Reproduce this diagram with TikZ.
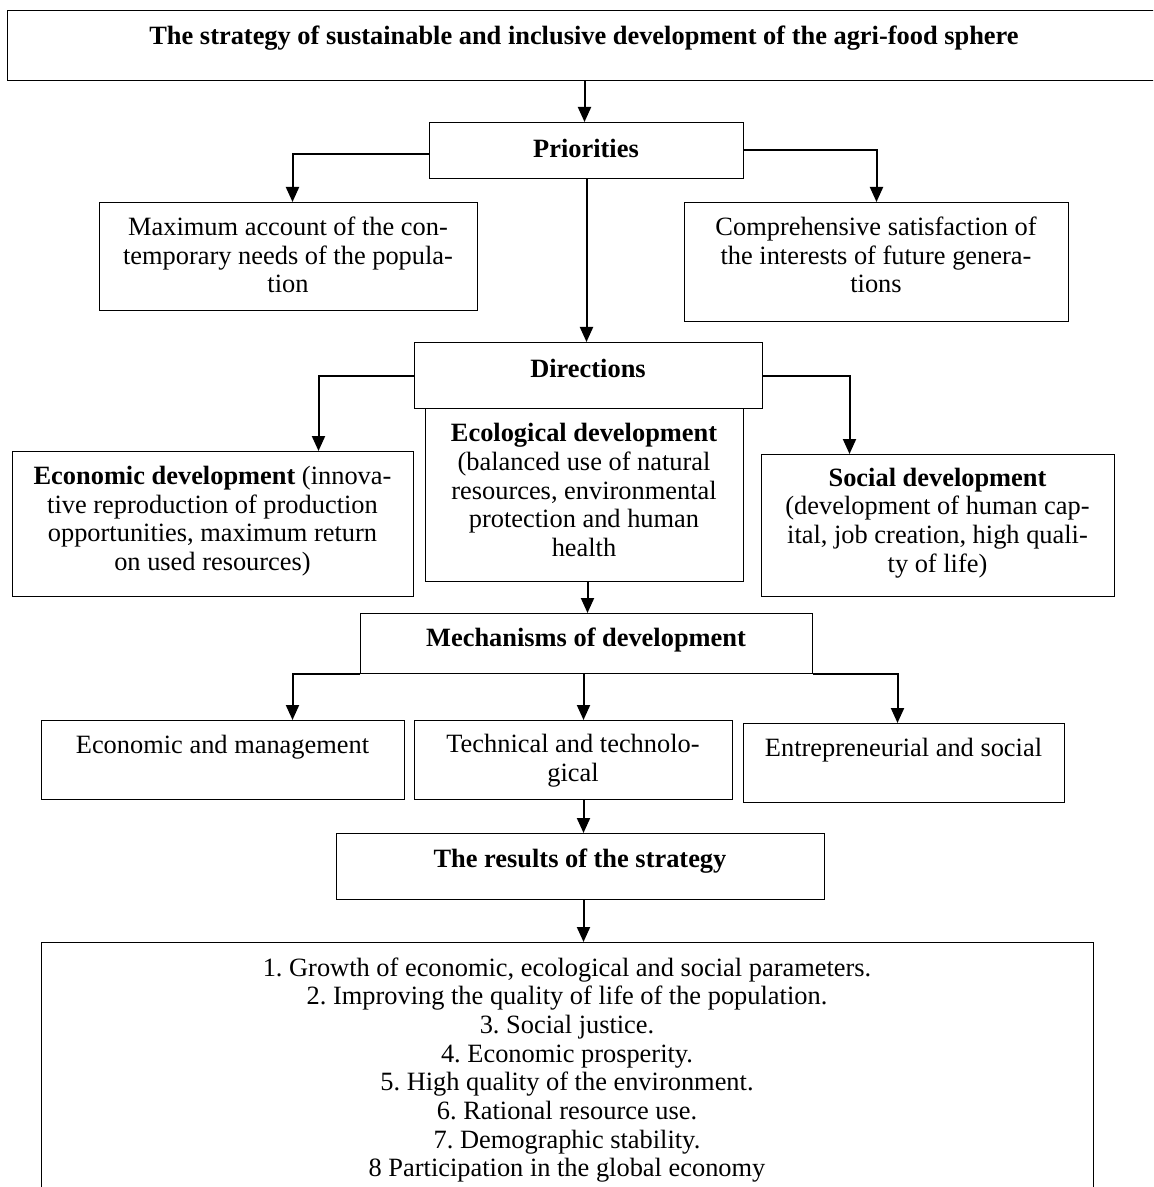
\documentclass[tikz,border=0pt]{standalone}
\usepackage{fontspec}
\setmainfont{Liberation Serif}
\frenchspacing
\usetikzlibrary{arrows.meta,calc}
\begin{document}
\begin{tikzpicture}[x=0.5pt,y=-0.5pt,
  box/.style={draw, line width=0.5pt, inner sep=0pt, anchor=north west},
  txt/.style={align=center, inner sep=0pt, font=\fontsize{13.2pt}{14.35pt}\selectfont},
  btxt/.style={align=center, inner sep=0pt, font=\fontsize{13.2pt}{14.35pt}\selectfont\bfseries},
  arr/.style={line width=1pt, -{Triangle[length=7.5pt,width=6.5pt]}}]
\useasboundingbox (0,0) rectangle (1153,1187);
\clip (0,0) rectangle (1153,1187);
% boxes
\node[box, minimum width=577pt, minimum height=35pt] (top) at (7,10) {};
\node[box, minimum width=157pt, minimum height=28pt] (prio) at (429,122) {};
\node[box, minimum width=189pt, minimum height=54pt] (max) at (99,202) {};
\node[box, minimum width=192pt, minimum height=59.5pt] (comp) at (684,202) {};
\node[box, minimum width=174pt, minimum height=33pt] (dir) at (414,342) {};
\node[box, minimum width=200.5pt, minimum height=72.5pt] (econ) at (12,451) {};
\node[box, minimum width=159pt, minimum height=86.5pt] (eco) at (425,408) {};
\node[box, minimum width=176.5pt, minimum height=71pt] (soc) at (761,454) {};
\node[box, minimum width=226pt, minimum height=30pt] (mech) at (360,613) {};
\node[box, minimum width=181.5pt, minimum height=39.5pt] (em) at (41,720) {};
\node[box, minimum width=159pt, minimum height=39.5pt] (tech) at (414,720) {};
\node[box, minimum width=160.5pt, minimum height=39.5pt] (ent) at (743,723) {};
\node[box, minimum width=244pt, minimum height=33pt] (res) at (336,833) {};
\node[box, minimum width=526pt, minimum height=150pt] (fin) at (41,942) {};
% texts
\node[btxt] (t-top) at (584,38) {The strategy of sustainable and inclusive development of the agri-food sphere};
\node[btxt] (t-prio) at (586,148) {Priorities};
\node[txt] (t-max) at (288,255) {Maximum account of the con-\\temporary needs of the popula-\\tion};
\node[txt] (t-comp) at (876,255) {Comprehensive satisfaction of\\the interests of future genera-\\tions};
\node[btxt] (t-dir) at (588,368) {Directions};
\node[txt] (t-econ) at (212.5,521) {\textbf{Economic development} (innova-\\tive reproduction of production\\opportunities, maximum return\\on used resources)};
\node[txt] (t-eco) at (584,490) {\textbf{Ecological development}\\(balanced use of natural\\resources, environmental\\protection and human\\health};
\node[txt] (t-soc) at (937.5,523) {\textbf{Social development}\\(development of human cap-\\ital, job creation, high quali-\\ty of life)};
\node[btxt] (t-mech) at (586,640) {Mechanisms of development};
\node[txt] (t-em) at (222.5,747) {Economic and management};
\node[txt] (t-tech) at (573,760.5) {Technical and technolo-\\gical};
\node[txt] (t-ent) at (903.5,750) {Entrepreneurial and social};
\node[btxt] (t-res) at (580,861) {The results of the strategy};
\node[txt] (t-fin) at (567,1070) {1. Growth of economic, ecological and social parameters.\\2. Improving the quality of life of the population.\\3. Social justice.\\4. Economic prosperity.\\5. High quality of the environment.\\6. Rational resource use.\\7. Demographic stability.\\8 Participation in the global economy};
% connectors
\draw[arr] (top.south) -- (top.south |- prio.north);
\draw[arr] ($(prio.west)+(0,4)$) -| ($(max.north)+(4,0)$);
\draw[arr] (prio.east) -| (comp.north);
\draw[arr] (prio.south) -- (prio.south |- dir.north);
\draw[arr] (dir.west) -| ($(econ.north)+(105.5,0)$);
\draw[arr] (dir.east) -| ($(soc.north)+(-88.5,0)$);
\draw[arr] ($(eco.south)+(3,0)$) -- ($(eco.south |- mech.north)+(3,0)$);
\draw[arr] (mech.south west) -| ($(em.north)+(69.5,0)$);
\draw[arr] ($(mech.south)+(-3,0)$) -- ($(tech.north)+(10,0)$);
\draw[arr] (mech.south east) -| ($(ent.north)+(-6.5,0)$);
\draw[arr] ($(tech.south)+(10,0)$) -- ($(res.north)+(3,0)$);
\draw[arr] ($(res.south)+(3,0)$) -- ($(fin.north)+(16,0)$);
\end{tikzpicture}
\end{document}
